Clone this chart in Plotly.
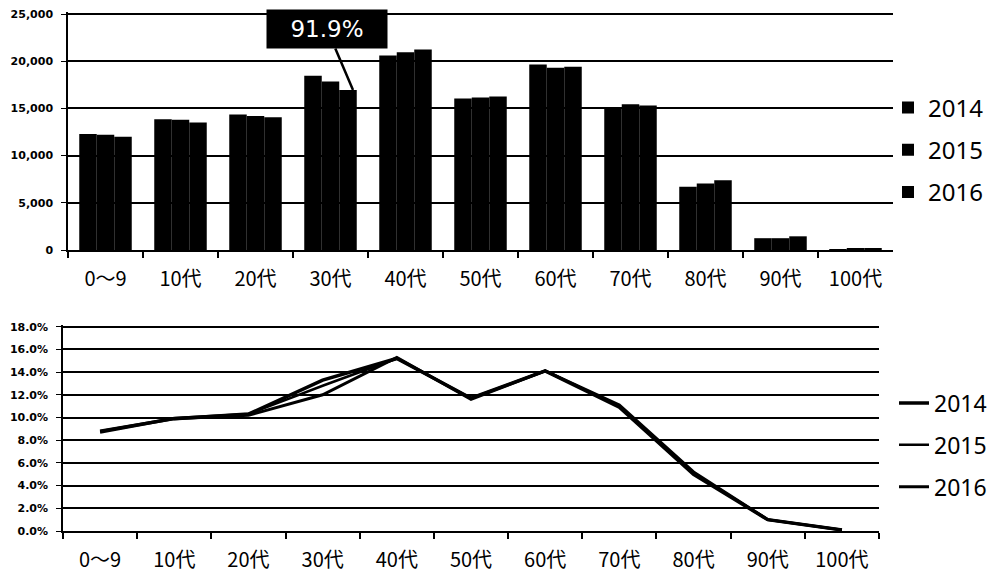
import plotly.graph_objects as go

categories = ["0〜9", "10代", "20代", "30代", "40代", "50代", "60代", "70代", "80代", "90代", "100代"]
years = ["2014", "2015", "2016"]

count_2014 = [12300, 13850, 14350, 18450, 20600, 16050, 19650, 15000, 6700, 1250, 100]
count_2015 = [12200, 13800, 14200, 17850, 20950, 16150, 19300, 15450, 7050, 1250, 110]
count_2016 = [12000, 13500, 14050, 16950, 21250, 16250, 19400, 15300, 7400, 1450, 120]

share_2014 = [8.8, 9.9, 10.3, 13.3, 15.2, 11.7, 14.1, 10.9, 5.0, 1.0, 0.1]
share_2015 = [8.8, 9.95, 10.3, 12.8, 15.2, 11.7, 14.1, 11.0, 5.1, 1.0, 0.1]
share_2016 = [8.7, 9.9, 10.2, 12.0, 15.3, 11.6, 14.1, 11.1, 5.2, 1.0, 0.1]

count_ticks = [0, 5000, 10000, 15000, 20000, 25000]
share_ticks = [0, 2, 4, 6, 8, 10, 12, 14, 16, 18]

annot_text = "91.9%"

# page body has an 8px margin, so the figure is drawn 8px in from the window edge
OFF = 8
W, H = 998 - OFF, 574 - OFF
CJK = "Noto Sans CJK JP, Noto Sans, sans-serif"

fig = go.Figure()

for yr, vals in zip(years, [count_2014, count_2015, count_2016]):
    fig.add_trace(go.Bar(
        x=categories, y=vals, name=yr, xaxis="x", yaxis="y",
        marker=dict(color="#000000", line=dict(width=0)),
        legend="legend", legendgroup="b" + yr,
    ))

for yr, vals, w in zip(years, [share_2014, share_2015, share_2016], [3.5, 2.5, 3]):
    fig.add_trace(go.Scatter(
        x=categories, y=vals, name=yr, xaxis="x2", yaxis="y2",
        mode="lines", line=dict(color="#000000", width=w),
        legend="legend2", legendgroup="l" + yr,
    ))

def px_x(p):
    return (p - OFF) / W

def px_y(p):
    return 1 - (p - OFF) / H

common_x = dict(
    type="category", range=[-0.5, len(categories) - 0.5],
    showline=True, linecolor="#000", linewidth=1.5,
    ticks="outside", ticklen=6, tickwidth=1.5, tickcolor="#000",
    tickson="boundaries", showgrid=False, ticklabelstandoff=10,
    tickfont=dict(family=CJK, size=20, color="#000"),
    automargin=False, fixedrange=True,
)

common_y = dict(
    showgrid=True, gridcolor="#000", gridwidth=1.5,
    showline=True, linecolor="#000", linewidth=1.5,
    ticks="outside", ticklen=5, tickcolor="#000",
    zeroline=False, ticklabelstandoff=6, tickmode="array",
    ticklabeloverflow="allow",
    tickfont=dict(family="DejaVu Sans", size=11, color="#000", weight="bold"),
    automargin=False, fixedrange=True,
)

fig.update_layout(
    width=W, height=H,
    margin=dict(l=0, r=0, t=0, b=0, autoexpand=False),
    paper_bgcolor="#ffffff", plot_bgcolor="#ffffff",
    template="none",
    bargap=0.3, bargroupgap=0,
    xaxis=dict(common_x, domain=[px_x(68), px_x(893)], anchor="y"),
    yaxis=dict(common_y, domain=[px_y(250), px_y(12)], anchor="x",
               range=[0, 25212], tickvals=count_ticks,
               ticktext=[f"{v:,}" for v in count_ticks]),
    xaxis2=dict(common_x, domain=[px_x(63), px_x(879)], anchor="y2"),
    yaxis2=dict(common_y, domain=[px_y(531), px_y(325)], anchor="x2",
                range=[0, 18.15], tickvals=share_ticks,
                ticktext=[f"{v:.1f}%" for v in share_ticks]),
    legend=dict(
        x=px_x(888), y=px_y(150), xanchor="left", yanchor="middle",
        font=dict(family="Noto Sans", size=24, color="#000"),
        bgcolor="rgba(0,0,0,0)", tracegroupgap=8, itemclick=False,
    ),
    legend2=dict(
        x=px_x(894), y=px_y(445), xanchor="left", yanchor="middle",
        font=dict(family="Noto Sans", size=23, color="#000"),
        bgcolor="rgba(0,0,0,0)", tracegroupgap=9, itemclick=False,
    ),
    showlegend=True,
)

fig.add_annotation(
    x=3.3, y=16950, xref="x", yref="y",
    text=annot_text, showarrow=True, arrowhead=0, arrowwidth=2.5, arrowcolor="#000",
    ax=-26, ay=-61, standoff=0,
    width=112, height=30, borderpad=4,
    bgcolor="#000", font=dict(family="DejaVu Sans", size=23, color="#fff"),
)

fig.write_html("out.html")
